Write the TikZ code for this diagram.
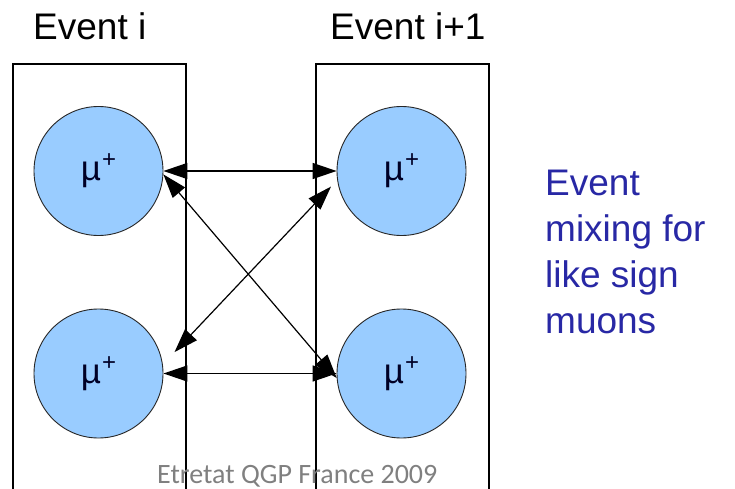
\documentclass[tikz,border=0pt]{standalone}
\usepackage{fontspec}
\setmainfont{Liberation Sans}
\newfontfamily\footfont{Carlito}
\usetikzlibrary{arrows.meta}
\definecolor{muonblue}{RGB}{153,204,255}
\definecolor{navytext}{RGB}{40,40,165}
\definecolor{footgray}{RGB}{128,128,128}
\tikzset{
  muon/.style={circle, draw=black!85, line width=0.9pt, fill=muonblue, minimum size=129pt, inner sep=0pt,
    font=\fontsize{35}{35}\selectfont, text=black!85!blue},
  evbox/.style={draw=black, line width=1.6pt},
  mixarrow/.style={line width=1.4pt, {Triangle[length=24pt,width=16pt]}-{Triangle[length=24pt,width=16pt]}},
  head/.style={anchor=base west, font=\fontsize{37}{37}\selectfont, inner sep=0pt},
}
\newcommand{\muplus}{µ\kern1pt\raisebox{0.38em}{\fontsize{24}{24}\selectfont +}}
\begin{document}
\begin{tikzpicture}[x=1pt,y=-1pt]
\useasboundingbox (0,0) rectangle (735,489);
\fill[white] (0,0) rectangle (735,489);
% event boxes
\draw[evbox] (13,489) |- (186,64) -- (186,489);
\draw[evbox] (316,489) |- (489,64) -- (489,489);
% headings
\node[head] (hi) at (33,40) {Event i};
\node[head] (hj) at (330,40) {Event i+1};
% muons
\node[muon] (a) at (98.5,171) {\muplus};
\node[muon] (b) at (401.5,171) {\muplus};
\node[muon] (c) at (98.5,373.5) {\muplus};
\node[muon] (d) at (401.5,373.5) {\muplus};
% connectors
\draw[mixarrow] (a.east) -- (b.west);
\draw[mixarrow] (c.east) -- (d.west);
\draw[mixarrow, line width=1.2pt] (a.-3) -- (d.184);
\draw[mixarrow, line width=1.2pt, shorten <=9pt, shorten >=17pt] (b.188) -- (c.8);
% side text
\node[anchor=base west, align=left, inner sep=0pt, text=navytext,
      font=\fontsize{37}{46}\selectfont] (side) at (545,333)
  {Event\\mixing for\\like sign\\muons};
% footer
\node[anchor=base west, inner sep=0pt, text=footgray, font=\footfont\fontsize{28}{28}\selectfont] (foot) at (157,483) {Etretat QGP France 2009};
\end{tikzpicture}
\end{document}
